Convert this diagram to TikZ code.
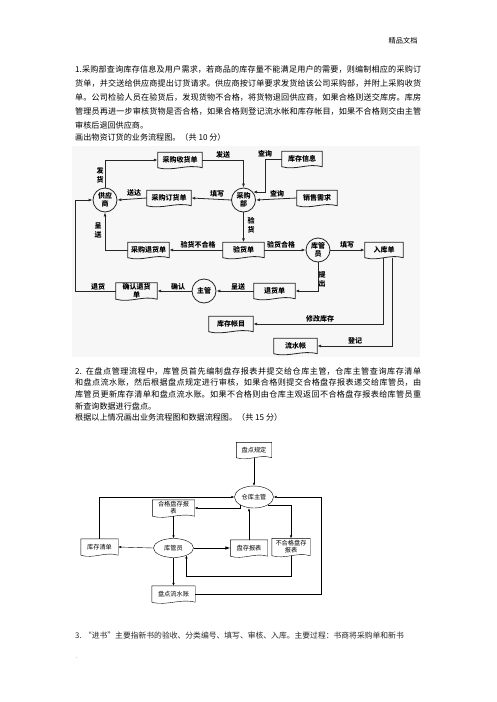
\documentclass[tikz,border=0pt]{standalone}
\usepackage{fontspec}
\setmainfont{Noto Sans CJK SC}
\usetikzlibrary{arrows.meta,shapes.geometric,calc}
\XeTeXlinebreaklocale "zh"
\XeTeXlinebreakskip=0pt plus 1pt

% document symbol with a wavy bottom, drawn round a named node
\newcommand{\docshape}[2][]{%
  \draw[#1] (#2.north west) -- (#2.north east) -- (#2.south east)
    .. controls ($(#2.south east)!0.35!(#2.south west)+(0,-4)$) and ($(#2.south west)!0.35!(#2.south east)+(0,4)$) .. (#2.south west) -- cycle;}

\tikzset{
  para/.style={text width=346pt, align=justify, inner sep=0, font=\fontsize{8.1}{14}\selectfont},
  doc/.style={minimum height=15, inner sep=0, align=center, font=\fontsize{7}{8}\selectfont\bfseries},
  proc/.style={circle, draw=black!85, line width=0.8, minimum size=24, inner sep=0, align=center, font=\fontsize{7}{8}\selectfont\bfseries},
  lbl/.style={inner sep=0, align=center, font=\fontsize{7}{9}\selectfont\bfseries},
  arr/.style={-{Latex[length=4pt,width=3pt]}, draw=black!85, line width=0.8},
  docB/.style={minimum height=16, inner sep=0, align=center, font=\fontsize{6.2}{7}\selectfont},
  procB/.style={ellipse, draw, line width=0.4, minimum width=39, minimum height=22, inner sep=0, font=\fontsize{6.2}{7}\selectfont},
  arrB/.style={-{Latex[length=3pt,width=2.4pt]}, line width=0.4}
}

\begin{document}
\begin{tikzpicture}[x=1pt,y=-1pt]
\useasboundingbox (0,0) rectangle (496,702);

% Text
\node[anchor=east, font=\fontsize{7.2}{8}\selectfont] (hdr) at (421,41) {精品文档};
\node[para, anchor=north west] (p1) at (75,65) {1.采购部查询库存信息及用户需求，若商品的库存量不能满足用户的需要，则编制相应的采购订\linebreak 货单，并交送给供应商提出订货请求。供应商按订单要求发货给该公司采购部，并附上采购收货\linebreak 单。公司检验人员在验货后，发现货物不合格，将货物退回供应商，如果合格则送交库房。库房\linebreak 管理员再进一步审核货物是否合格，如果合格则登记流水帐和库存帐目，如果不合格则交由主管\linebreak 审核后退回供应商。};
\node[anchor=west, inner sep=0, font=\fontsize{8.1}{14}\selectfont] (q1) at (75,137) {画出物资订货的业务流程图。（共 10 分）};

% Diagram 1
\fill[black!3] (72,146) rectangle (420,357);
% Processes
\node[proc] (gys) at (105,200) {供应\\商};
\node[proc] (cgb) at (243.5,200) {采购\\部};
\node[proc] (kgy) at (318,250) {库管\\员};
\node[proc] (zg) at (204,291) {主管};
% Documents
\node[doc, minimum width=44] (sgsh) at (180,160) {采购收货单};
\node[doc, minimum width=40] (kcxx) at (302,159) {库存信息};
\node[doc, minimum width=44] (cgdh) at (169,198) {采购订货单};
\node[doc, minimum width=40] (xsxq) at (317,198) {销售需求};
\node[doc, minimum width=41] (cgth) at (148.5,250) {采购退货单};
\node[doc, minimum width=41] (yhd) at (243.5,250) {验货单};
\node[doc, minimum width=38] (rkd) at (384,250) {入库单};
\node[doc, minimum width=41, minimum height=16] (qrth) at (136.5,291) {确认退货\\单};
\node[doc, minimum width=41] (thd) at (274.5,291) {退货单};
\node[doc, minimum width=44] (kczm) at (231,324) {库存帐目};
\node[doc, minimum width=43] (lsz) at (295.5,346) {流水帐};
\foreach \d in {sgsh,kcxx,cgdh,xsxq,cgth,yhd,rkd,qrth,thd,kczm,lsz}
  \docshape[draw=black!85, line width=0.8]{\d};
% Flows
\draw[arr] (gys.north) |- (sgsh.west);
\draw[arr] (sgsh.east) -| (cgb.north);
\draw[arr] (kcxx.west) -| ($(cgb.40)+(12,0)$) -- (cgb.40);
\draw[arr] (xsxq.west) -- (cgb.east);
\draw[arr] (cgb.west) -- (cgdh.east);
\draw[arr] (cgdh.west) -- (gys.east);
\draw[arr] (cgb.south) -- (yhd.north);
\draw[arr] (yhd.west) -- (cgth.east);
\draw[arr] (cgth.west) -| (gys.south);
\draw[arr] (yhd.east) -- (kgy.west);
\draw[arr] (kgy.east) -- (rkd.west);
\draw[arr] (kgy.south) |- (thd.east);
\draw[arr] (thd.west) -- (zg.east);
\draw[arr] (zg.west) -- (qrth.east);
\draw[arr] (qrth.west) -- ++(-40,0) |- (gys.west);
\draw[arr] ([xshift=-1]rkd.south) |- (kczm.east);
\draw[arr] ([xshift=8]rkd.south) |- (lsz.east);
% Labels
\node[lbl] (l1) at (223,155) {发送};
\node[lbl] (l2) at (100,175) {发\\货};
\node[lbl] (l3) at (265,154) {查询};
\node[lbl] (l4) at (134,193) {送达};
\node[lbl] (l5) at (217,194) {填写};
\node[lbl] (l6) at (277,194) {查询};
\node[lbl] (l7) at (251,225) {验\\货};
\node[lbl] (l8) at (98,230) {呈\\送};
\node[lbl] (l9) at (198,245) {验货不合格};
\node[lbl] (l10) at (281,245) {验货合格};
\node[lbl] (l11) at (347,245) {填写};
\node[lbl] (l12) at (322,279) {提\\出};
\node[lbl] (l13) at (98,287) {退货};
\node[lbl] (l14) at (178,287) {确认};
\node[lbl] (l15) at (238,287) {呈送};
\node[lbl] (l16) at (320,319) {修改库存};
\node[lbl] (l17) at (355,341) {登记};

% Text
\node[anchor=north west, text width=346pt, align=justify, inner sep=0, font=\fontsize{8.1}{11.7}\selectfont] (p2) at (75,367) {2. 在盘点管理流程中，库管员首先编制盘存报表并提交给仓库主管，仓库主管查询库存清单\linebreak 和盘点流水账，然后根据盘点规定进行审核，如果合格则提交合格盘存报表递交给库管员，由\linebreak 库管员更新库存清单和盘点流水账。如果不合格则由仓库主观返回不合格盘存报表给库管员重\linebreak 新查询数据进行盘点。\\ 根据以上情况画出业务流程图和数据流程图。（共 15 分）};

% Diagram 2
\node[docB, minimum width=35, minimum height=15] (pdgd) at (254,450) {盘点规定};
\node[procB] (ckzg) at (254,497) {仓库主管};
\node[docB, minimum width=42] (hgbb) at (173.5,508) {合格盘存报\\表};
\node[procB, minimum width=40, minimum height=19] (kgyB) at (173.5,548) {库管员};
\node[docB, minimum width=37] (kcqd) at (99.5,547) {库存清单};
\node[docB, minimum width=37] (pcbb) at (249,548) {盘存报表};
\node[docB, minimum width=38, minimum height=17] (bhgbb) at (291,547) {不合格盘存\\报表};
\node[docB, minimum width=43] (pdlsz) at (173.5,594) {盘点流水账};
\foreach \d in {pdgd,hgbb,kcqd,pcbb,bhgbb,pdlsz}
  \docshape[line width=0.4]{\d};
\draw[arrB] (pdgd.south) -- (ckzg.north);
\draw[arrB] (kcqd.north) |- (ckzg.west);
\draw[arrB] (pdlsz.east) -- ++(126,0) |- (ckzg.east);
\draw[arrB] (ckzg.south west) |- (hgbb.east);
\draw[arrB] (hgbb.south) -- (kgyB.north);
\draw[arrB] (kgyB.west) -- (kcqd.east);
\draw[arrB, line width=0.7, -{Latex[length=5pt,width=3.5pt]}] (kgyB.east) -- (pcbb.west);
\draw[arrB] (pcbb.north) -- (pcbb.north |- ckzg.south);
\draw[arrB] (ckzg.south east) -| (bhgbb.north);
\draw[arrB] (bhgbb.south) -- ++(0,20) -| (kgyB.-30);
\draw[arrB] (kgyB.south) -- (pdlsz.north);

% Text
\node[anchor=west, inner sep=0, text=black!85, font=\fontsize{7.8}{9}\selectfont] (p3) at (75,636) {3. “进书”主要指新书的验收、分类编号、填写、审核、入库。主要过程：书商将采购单和新书};
\node[inner sep=0, text=black!60, font=\fontsize{6}{7}\selectfont] (dot) at (77,658) {.};
\end{tikzpicture}
\end{document}
